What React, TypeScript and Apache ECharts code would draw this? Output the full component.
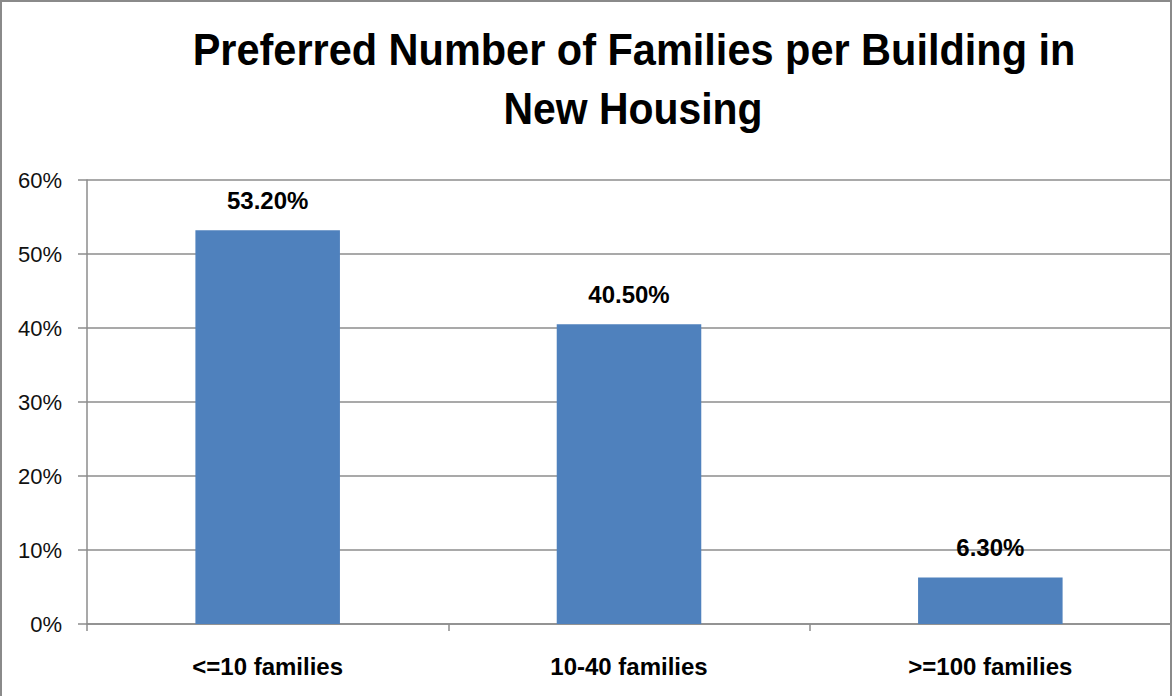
import React, { useEffect, useRef } from "react";
import * as echarts from "echarts";

const categories = ["<=10 families", "10-40 families", ">=100 families"];
const values = [53.2, 40.5, 6.3];
const yTicks = [0, 10, 20, 30, 40, 50, 60];
const titleLines = ["Preferred Number of Families per Building in", "New Housing"];

export default function App() {
  const ref = useRef<HTMLDivElement>(null);
  useEffect(() => {
    document.body.style.margin = "0";
    const chart = echarts.init(ref.current!, null, { renderer: "svg" });
    const gray = "#8c8c8c";
    const titleFont = "bold 44px 'Liberation Sans Narrow', 'Liberation Sans', Arial, sans-serif";
    chart.setOption({
      animation: false,
      backgroundColor: "#ffffff",
      graphic: [
        {
          type: "rect",
          shape: { x: 1, y: 1, width: 1170, height: 720 },
          style: { fill: "none", stroke: "#8a8a8a", lineWidth: 2 },
          silent: true,
        },
        {
          type: "text",
          x: 634,
          y: 50,
          scaleX: 0.943,
          style: {
            text: titleLines[0],
            font: titleFont,
            fill: "#000",
            textAlign: "center",
            textVerticalAlign: "middle",
          },
        },
        {
          type: "text",
          x: 633,
          y: 109,
          scaleX: 0.93,
          style: {
            text: titleLines[1],
            font: titleFont,
            fill: "#000",
            textAlign: "center",
            textVerticalAlign: "middle",
          },
        },
      ],
      grid: { left: 87, right: 2, top: 180, bottom: 72, containLabel: false },
      xAxis: {
        type: "category",
        data: categories,
        axisLine: { lineStyle: { color: gray, width: 1.5 } },
        axisTick: { show: true, length: 7, lineStyle: { color: gray, width: 1.5 } },
        axisLabel: {
          margin: 30,
          fontFamily: "'Liberation Sans Narrow', 'Liberation Sans', Arial, sans-serif",
          fontWeight: "bold",
          fontSize: 24,
          color: "#000",
        },
      },
      yAxis: {
        type: "value",
        min: yTicks[0],
        max: yTicks[yTicks.length - 1],
        interval: 10,
        axisLine: { show: true, lineStyle: { color: gray, width: 1.5 } },
        axisTick: { show: true, length: 9, lineStyle: { color: gray, width: 1.5 } },
        splitLine: { lineStyle: { color: gray, width: 1.5 } },
        axisLabel: {
          margin: 25,
          formatter: "{value}%",
          fontFamily: "'Liberation Sans', Arial, sans-serif",
          fontSize: 22,
          color: "#111",
        },
      },
      series: [
        {
          type: "bar",
          data: values,
          barWidth: "40%",
          itemStyle: { color: "#4f81bd" },
          label: {
            show: true,
            position: "top",
            distance: 18,
            formatter: (p: any) => p.value.toFixed(2) + "%",
            fontFamily: "'Liberation Sans Narrow', 'Liberation Sans', Arial, sans-serif",
            fontWeight: "bold",
            fontSize: 24,
            color: "#000",
          },
        },
      ],
    });
    return () => chart.dispose();
  }, []);
  return <div ref={ref} style={{ width: 1173, height: 696 }} />;
}
